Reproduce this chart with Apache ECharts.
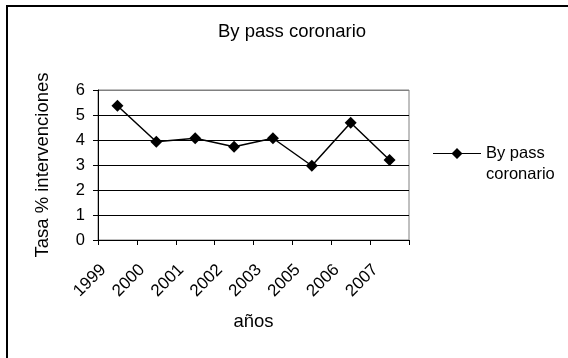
<!DOCTYPE html>
<html>
<head>
<meta charset="utf-8">
<script src="https://cdn.jsdelivr.net/npm/echarts@6/dist/echarts.min.js"></script>
<style>html,body{margin:0;padding:0;background:#fff}#c{width:568px;height:358px}</style>
</head>
<body>
<div id="c"></div>
<script>
const titleText = 'By pass coronario';
const seriesName = 'By pass coronario';
const categories = ['1999','2000','2001','2002','2003','2005','2006','2007'];
const values = [5.37, 3.93, 4.07, 3.73, 4.07, 2.97, 4.69, 3.2];
const xAxisTitle = 'años';
const yAxisTitle = 'Tasa % intervenciones';
const yMin = 0, yMax = 6, yStep = 1;

const FONT = 'Liberation Sans, Arial, sans-serif';
const chart = echarts.init(document.getElementById('c'), null, {renderer: 'canvas'});
chart.setOption({
  animation: false,
  backgroundColor: '#fff',
  textStyle: {fontFamily: FONT},
  title: {
    text: titleText,
    left: 292, top: 22, textAlign: 'center', padding: 0,
    textStyle: {fontFamily: FONT, fontSize: 18.5, fontWeight: 'normal', color: '#000'}
  },
  graphic: [{
    type: 'rect', shape: {x: 7, y: 6, width: 570, height: 370},
    style: {fill: 'none', stroke: '#000', lineWidth: 2}, silent: true, z: 100
  }],
  legend: {
    left: 433, top: 122, orient: 'vertical', padding: 0,
    itemWidth: 48, itemHeight: 11,
    data: [{name: seriesName, icon: 'path://M0,5.5 L48,5.5 L48,6.5 L0,6.5 Z M24,0.5 L29.5,6 L24,11.5 L18.5,6 Z'}],
    formatter: function () { return ' \nBy pass\ncoronario'; },
    textStyle: {fontFamily: FONT, fontSize: 16.5, color: '#000', lineHeight: 21}
  },
  grid: {left: 98, right: 159, top: 90, bottom: 118, show: true, borderColor: '#808080', borderWidth: 1},
  xAxis: {
    type: 'category', data: categories, boundaryGap: true,
    name: xAxisTitle, nameLocation: 'middle', nameGap: 72,
    nameTextStyle: {fontFamily: FONT, fontSize: 18.5, color: '#000'},
    axisLine: {lineStyle: {color: '#000', width: 1}},
    axisTick: {show: true, alignWithLabel: false, length: 5, lineStyle: {color: '#000'}},
    axisLabel: {rotate: 45, margin: 13, padding: [0, 20, 0, 0], fontFamily: FONT, fontSize: 17, color: '#000', interval: 0}
  },
  yAxis: {
    type: 'value', min: yMin, max: yMax, interval: yStep,
    name: yAxisTitle, nameLocation: 'middle', nameGap: 46, nameRotate: 90,
    nameTextStyle: {fontFamily: FONT, fontSize: 18.5, color: '#000'},
    axisLine: {show: true, lineStyle: {color: '#000', width: 1}},
    axisTick: {show: true, length: 5, lineStyle: {color: '#000'}},
    axisLabel: {margin: 13, fontFamily: FONT, fontSize: 16.5, color: '#000'},
    splitLine: {show: true, lineStyle: {color: ['#000','#000','#000','#000','#000','#000','#808080'], width: 1}}
  },
  series: [{
    name: seriesName, type: 'line', data: values,
    symbol: 'diamond', symbolSize: 12,
    lineStyle: {color: '#000', width: 1.5},
    itemStyle: {color: '#000'}
  }]
});
</script>
</body>
</html>
